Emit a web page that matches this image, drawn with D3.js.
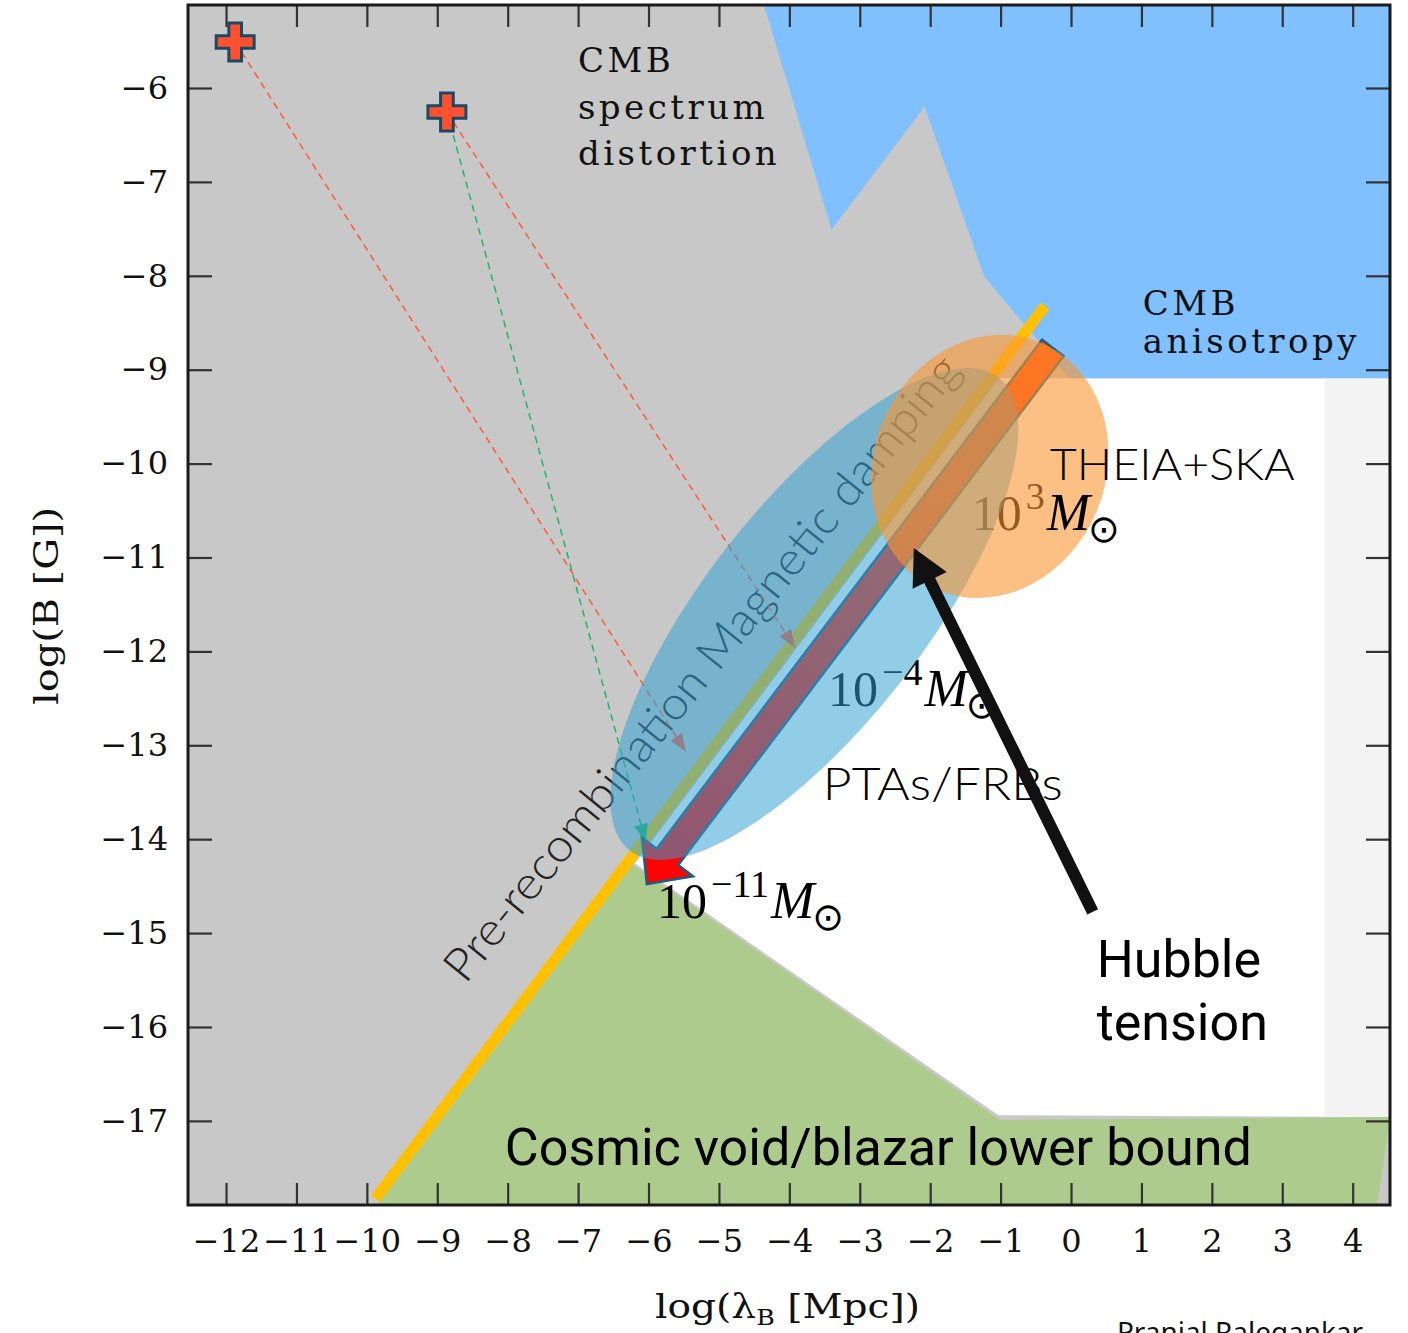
<!DOCTYPE html>
<html>
<head>
<meta charset="utf-8">
<script src="https://cdn.jsdelivr.net/npm/d3@7"></script>
<style>
body { margin: 0; background: #fff; }
</style>
</head>
<body>
<script>
var W = 1408, H = 1333;
var plotLeft = 188, plotRight = 1390, plotTop = 5, plotBottom = 1205;

// axes (log lambda_B [Mpc], log B [G])
var xDomain = [-12.54, 4.53];
var yDomain = [-17.896, -5.116];
var xTicks = d3.range(-12, 5);
var yTicks = d3.range(-6, -18, -1);

// regions, as [log lambda, log B] vertices
var cmbAnisotropy = [[-4.36, -5.116], [-3.40, -7.51], [-2.08, -6.20], [-1.23, -8.01], [-0.66, -8.52], [-0.02, -9.09], [4.53, -9.09], [4.53, -5.116]];
var allowedRegion = [[-1.02, -9.09], [4.53, -9.09], [4.53, -16.96], [-1.03, -16.94], [-6.19, -14.26]];
var farStrip = [[3.60, -9.09], [4.53, -9.09], [4.53, -16.96], [3.60, -16.96]];
var blazarBound = [[-9.85, -17.896], [-6.22, -14.27], [-1.01, -16.99], [4.53, -16.96], [4.35, -17.896]];
var dampingLine = [[-9.88, -17.83], [-0.37, -8.32]];

// PBH mass arrow (start, tip) and initial fields
var pbhArrow = [[-0.259, -8.769], [-6.023, -14.477]];
var sources = [[-11.87, -5.51], [-8.863, -6.256]];
var evolutions = [
  { from: 0, to: [-5.47, -13.07], color: '#ff5a36' },
  { from: 1, to: [-3.92, -11.96], color: '#ff5a36' },
  { from: 1, to: [-6.04, -14.03], color: '#1fb85e' }
];
var hubbleArrow = [[0.308, -14.775], [-2.233, -10.90]];

// forecast ellipses (centres)
var ptaCentre = [-3.645, -11.602];
var theiaCentre = [-1.154, -10.03];

// labels
var massLabels = [
  { at: [-3.45, -12.58], exp: '\u22124' },
  { at: [-5.88, -14.84], exp: '\u221211' },
  { at: [-1.41, -10.71], exp: '3' }
];
var cmbDistortion = ['CMB', 'spectrum', 'distortion'];
var cmbAniso = ['CMB', 'anisotropy'];

var x = d3.scaleLinear().domain(xDomain).range([plotLeft, plotRight]);
var y = d3.scaleLinear().domain(yDomain).range([plotBottom, plotTop]);
var line = d3.line().x(function(d){ return x(d[0]); }).y(function(d){ return y(d[1]); });

var svg = d3.select('body').append('svg').attr('width', W).attr('height', H);
var defs = svg.append('defs');

defs.append('clipPath').attr('id', 'plotclip').append('rect')
  .attr('x', plotLeft).attr('y', plotTop)
  .attr('width', plotRight - plotLeft).attr('height', plotBottom - plotTop);

var plot = svg.append('g').attr('clip-path', 'url(#plotclip)');

// background: excluded (gray)
plot.append('rect').attr('x', plotLeft).attr('y', plotTop)
  .attr('width', plotRight - plotLeft).attr('height', plotBottom - plotTop)
  .attr('fill', '#c8c8c8');

plot.append('path').attr('d', line(allowedRegion) + 'Z').attr('fill', '#ffffff');
plot.append('path').attr('d', line(farStrip) + 'Z').attr('fill', '#f3f3f3');
plot.append('path').attr('d', line(blazarBound) + 'Z').attr('fill', '#aecb8e');
plot.append('path').attr('d', line(cmbAnisotropy) + 'Z').attr('fill', '#80c0ff');

plot.append('path').attr('d', line(dampingLine))
  .attr('stroke', '#ffc000').attr('stroke-width', 11).attr('fill', 'none');

// text that sits under the ellipses
plot.append('text')
  .attr('transform', 'translate(' + x(-5.072) + ',' + y(-12.283) + ') rotate(-51)')
  .attr('text-anchor', 'middle')
  .attr('font-family', 'Lato, "Open Sans", sans-serif').attr('font-weight', 300)
  .attr('font-size', 46).attr('fill', '#222')
  .attr('textLength', 790).attr('lengthAdjust', 'spacingAndGlyphs')
  .text('Pre-recombination Magnetic damping');

var mant = plot.selectAll('.mant').data(massLabels).enter().append('text')
  .attr('class', 'mant')
  .attr('x', function(d){ return x(d.at[0]); })
  .attr('y', function(d){ return y(d.at[1]); })
  .attr('font-family', '"Liberation Serif", serif').attr('font-size', 50).attr('fill', '#000');
mant.append('tspan').text('10');
mant.append('tspan').attr('dx', 4).attr('dy', -21).attr('font-size', 38).text(function(d){ return d.exp; });

// dashed evolution tracks
evolutions.forEach(function(d, i) {
  defs.append('marker').attr('id', 'tip' + i)
    .attr('markerUnits', 'userSpaceOnUse').attr('orient', 'auto')
    .attr('markerWidth', 18).attr('markerHeight', 14).attr('refX', 18).attr('refY', 7)
    .append('path').attr('d', 'M0,0L18,7L0,14Z').attr('fill', d.color);
  plot.append('path').attr('d', line([sources[d.from], d.to]))
    .attr('stroke', d.color).attr('stroke-width', 1.5).attr('stroke-dasharray', '7,5')
    .attr('fill', 'none').attr('marker-end', 'url(#tip' + i + ')');
});

function arrowPath(p0, p1, shaftHalf, headHalf, headLen) {
  var x0 = x(p0[0]), y0 = y(p0[1]), x1 = x(p1[0]), y1 = y(p1[1]);
  var dx = x1 - x0, dy = y1 - y0, len = Math.hypot(dx, dy);
  var ux = dx / len, uy = dy / len, nx = -uy, ny = ux;
  var bx = x1 - ux * headLen, by = y1 - uy * headLen;
  var pts = [
    [x0 + nx * shaftHalf, y0 + ny * shaftHalf],
    [bx + nx * shaftHalf, by + ny * shaftHalf],
    [bx + nx * headHalf, by + ny * headHalf],
    [x1, y1],
    [bx - nx * headHalf, by - ny * headHalf],
    [bx - nx * shaftHalf, by - ny * shaftHalf],
    [x0 - nx * shaftHalf, y0 - ny * shaftHalf]
  ];
  return 'M' + pts.join('L') + 'Z';
}

var grad = defs.append('linearGradient').attr('id', 'pbhgrad').attr('gradientUnits', 'userSpaceOnUse')
  .attr('x1', x(pbhArrow[1][0])).attr('y1', y(pbhArrow[1][1]))
  .attr('x2', x(pbhArrow[0][0])).attr('y2', y(pbhArrow[0][1]));
grad.append('stop').attr('offset', 0).attr('stop-color', '#ff0000');
grad.append('stop').attr('offset', 1).attr('stop-color', '#ff4a12');

plot.append('path').attr('d', arrowPath(pbhArrow[0], pbhArrow[1], 13.5, 32, 34))
  .attr('fill', 'url(#pbhgrad)').attr('stroke', '#1d5e7e').attr('stroke-width', 2.5)
  .attr('stroke-linejoin', 'miter');

// forecast ellipses
plot.append('ellipse')
  .attr('transform', 'translate(' + x(ptaCentre[0]) + ',' + y(ptaCentre[1]) + ') rotate(-52)')
  .attr('rx', 300).attr('ry', 110)
  .attr('fill', 'rgb(49,160,211)').attr('fill-opacity', 0.53);
plot.append('ellipse')
  .attr('transform', 'translate(' + x(theiaCentre[0]) + ',' + y(theiaCentre[1]) + ') rotate(22)')
  .attr('rx', 116).attr('ry', 134)
  .attr('fill', 'rgb(250,150,50)').attr('fill-opacity', 0.6);

// M_sun parts of the mass labels, on top
mant.each(function(d) {
  var w = this.getComputedTextLength();
  var t = plot.append('text')
    .attr('x', x(d.at[0]) + w + 6).attr('y', y(d.at[1]))
    .attr('font-family', '"Liberation Serif", serif').attr('font-size', 52).attr('fill', '#000');
  t.append('tspan').attr('font-style', 'italic').text('M');
  t.append('tspan').attr('dx', -2).attr('dy', 12).attr('font-size', 38).attr('font-family', '"DejaVu Sans", sans-serif').text('\u2299');
});

// initial field sources
plot.selectAll('.src').data(sources).enter().append('path')
  .attr('class', 'src')
  .attr('transform', function(d){ return 'translate(' + x(d[0]) + ',' + y(d[1]) + ')'; })
  .attr('d', d3.symbol().type(d3.symbolCross).size(800))
  .attr('fill', '#ff5030').attr('stroke', '#1a4a62').attr('stroke-width', 3);

// region labels
var cmbText = plot.append('text').attr('font-family', '"DejaVu Serif", serif').attr('font-size', 34)
  .attr('letter-spacing', 3.5).attr('fill', '#111');
cmbText.selectAll('tspan').data(cmbDistortion).enter().append('tspan')
  .attr('x', x(-7.003)).attr('y', function(d, i){ return y(-5.83 - i * 0.495); })
  .text(function(d){ return d; });
var anisoText = plot.append('text').attr('font-family', '"DejaVu Serif", serif').attr('font-size', 34)
  .attr('letter-spacing', 3.5).attr('fill', '#111');
anisoText.selectAll('tspan').data(cmbAniso).enter().append('tspan')
  .attr('x', x(1.018)).attr('y', function(d, i){ return y(-8.417 - i * 0.405); })
  .text(function(d){ return d; });

plot.append('text').attr('x', x(-0.302)).attr('y', y(-10.175))
  .attr('font-family', 'Lato, sans-serif').attr('font-weight', 300).attr('font-size', 44)
  .attr('textLength', 245).attr('lengthAdjust', 'spacingAndGlyphs')
  .text('THEIA+SKA');
plot.append('text').attr('x', x(-3.525)).attr('y', y(-13.58))
  .attr('font-family', 'Lato, sans-serif').attr('font-weight', 300).attr('font-size', 45)
  .attr('textLength', 240).attr('lengthAdjust', 'spacingAndGlyphs')
  .text('PTAs/FRBs');

// Hubble tension arrow
plot.append('path').attr('d', arrowPath(hubbleArrow[0], hubbleArrow[1], 6, 19, 36))
  .attr('fill', '#111');
var hub = plot.append('text').attr('font-family', 'Roboto, sans-serif').attr('font-size', 52).attr('fill', '#000');
hub.append('tspan').attr('x', x(0.365)).attr('y', y(-15.47)).text('Hubble');
hub.append('tspan').attr('x', x(0.365)).attr('y', y(-16.14)).text('tension');

plot.append('text').attr('x', x(-8.04)).attr('y', y(-17.47))
  .attr('font-family', 'Roboto, sans-serif').attr('font-size', 52)
  .attr('textLength', 747).attr('lengthAdjust', 'spacingAndGlyphs')
  .text('Cosmic void/blazar lower bound');

// axes
function styleAxis(g) {
  g.select('.domain').remove();
  g.selectAll('.tick line').attr('stroke', '#333').attr('stroke-width', 2.2);
  g.attr('font-family', '"DejaVu Serif", serif').attr('font-size', 32);
  g.selectAll('.tick text').attr('fill', '#111');
}
svg.append('g').attr('transform', 'translate(0,' + plotBottom + ')')
  .call(d3.axisBottom(x).tickValues(xTicks).tickSizeInner(-22).tickSizeOuter(0).tickPadding(24))
  .call(styleAxis);
svg.append('g').attr('transform', 'translate(' + plotLeft + ',0)')
  .call(d3.axisLeft(y).tickValues(yTicks).tickSizeInner(-24).tickSizeOuter(0).tickPadding(20))
  .call(styleAxis);
svg.append('g').attr('transform', 'translate(0,' + plotTop + ')')
  .call(d3.axisTop(x).tickValues(xTicks).tickSizeInner(-22).tickSizeOuter(0).tickFormat(''))
  .call(styleAxis);
svg.append('g').attr('transform', 'translate(' + plotRight + ',0)')
  .call(d3.axisRight(y).tickValues(yTicks).tickSizeInner(-24).tickSizeOuter(0).tickFormat(''))
  .call(styleAxis);

svg.append('rect').attr('x', plotLeft).attr('y', plotTop)
  .attr('width', plotRight - plotLeft).attr('height', plotBottom - plotTop)
  .attr('fill', 'none').attr('stroke', '#1a1a1a').attr('stroke-width', 3);

// axis titles
var xt = svg.append('text').attr('x', 655).attr('y', 1318)
  .attr('font-family', '"DejaVu Serif", serif').attr('font-size', 34).attr('fill', '#111')
  .attr('textLength', 265).attr('lengthAdjust', 'spacingAndGlyphs');
xt.append('tspan').text('log(\u03bb');
xt.append('tspan').attr('dy', 7).attr('font-size', 22).text('B');
xt.append('tspan').attr('dy', -7).text(' [Mpc])');

svg.append('text').attr('transform', 'translate(58,606) rotate(-90)')
  .attr('text-anchor', 'middle')
  .attr('font-family', '"DejaVu Serif", serif').attr('font-size', 34).attr('fill', '#111')
  .attr('textLength', 198).attr('lengthAdjust', 'spacingAndGlyphs')
  .text('log(B [G])');

// credit line, cut by the page edge as in the source image
svg.append('text').attr('x', 1117).attr('y', 1342)
  .attr('font-family', '"Noto Sans", sans-serif').attr('font-size', 27).attr('fill', '#111')
  .attr('textLength', 246).attr('lengthAdjust', 'spacingAndGlyphs')
  .text('Pranjal Ralegankar');
</script>
</body>
</html>
